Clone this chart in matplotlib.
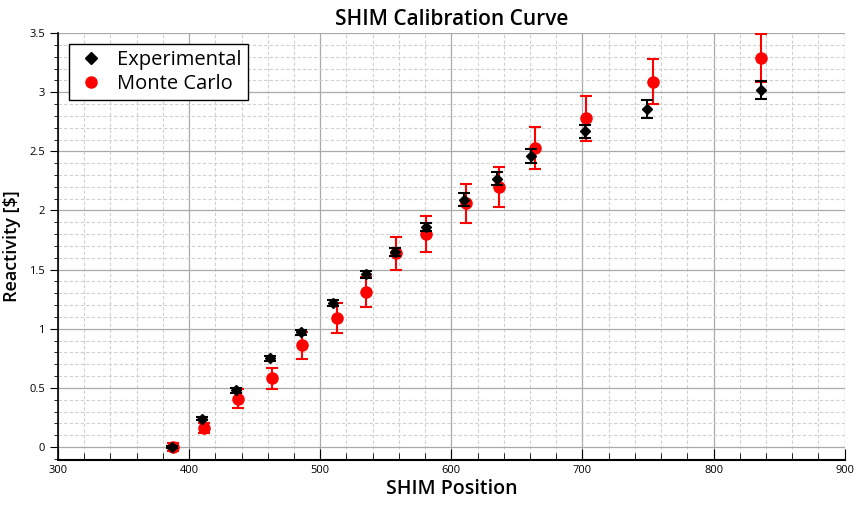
import matplotlib
matplotlib.use("Agg")
import matplotlib.pyplot as plt
from matplotlib.ticker import MultipleLocator
from matplotlib.lines import Line2D

plt.rcParams['font.family'] = ['Open Sans', 'DejaVu Sans']

# Experimental data
exp_pos = [387, 410, 436, 462, 485, 510, 535, 557, 581, 610, 635, 661, 702, 749, 836]
exp_react = [0.0, 0.24, 0.48, 0.75, 0.97, 1.22, 1.46, 1.65, 1.86, 2.09, 2.27, 2.46, 2.67, 2.86, 3.02]
exp_err = [0.01, 0.015, 0.02, 0.02, 0.02, 0.025, 0.03, 0.035, 0.035, 0.055, 0.055, 0.06, 0.055, 0.075, 0.075]

# Monte Carlo data
mc_pos = [388, 411, 437, 463, 486, 513, 535, 558, 581, 611, 636, 664, 703, 754, 836]
mc_react = [0.0, 0.16, 0.41, 0.58, 0.86, 1.09, 1.31, 1.64, 1.80, 2.06, 2.20, 2.53, 2.78, 3.09, 3.29]
mc_err = [0.035, 0.045, 0.077, 0.09, 0.115, 0.125, 0.125, 0.14, 0.15, 0.163, 0.17, 0.18, 0.19, 0.19, 0.2]

fig = plt.figure(figsize=(8.56, 5.07), dpi=100)
ax = fig.add_axes([0.0678, 0.0927, 0.919, 0.842])

ax.errorbar(mc_pos, mc_react, yerr=mc_err, fmt='o', color='#ff0000', markersize=8,
            capsize=4, elinewidth=1.5, capthick=1.5, zorder=3)
ax.errorbar(exp_pos, exp_react, yerr=exp_err, fmt='D', color='black', markersize=5,
            capsize=4, elinewidth=1.5, capthick=1.5, zorder=4)

ax.set_xlim(300, 900)
ax.set_ylim(-0.11, 3.5)
ax.xaxis.set_major_locator(MultipleLocator(100))
ax.xaxis.set_minor_locator(MultipleLocator(20))
ax.yaxis.set_minor_locator(MultipleLocator(0.1))
ax.set_yticks([0, 0.5, 1, 1.5, 2, 2.5, 3, 3.5])
ax.set_yticklabels(['0', '0.5', '1', '1.5', '2', '2.5', '3', '3.5'])

ax.grid(which='major', color='#aaaaaa', linestyle='-', linewidth=0.9)
ax.grid(which='minor', color='#d0d0d0', linestyle=(0, (3, 2)), linewidth=0.8)
ax.set_axisbelow(True)

for s in ['top', 'right']:
    ax.spines[s].set_visible(False)
ax.spines['left'].set_linewidth(1.2)
ax.spines['bottom'].set_linewidth(1.5)

ax.tick_params(axis='x', which='both', direction='in', labelsize=8)
ax.tick_params(axis='x', which='major', length=8)
ax.tick_params(axis='x', which='minor', length=5)
ax.tick_params(axis='y', which='both', direction='out', labelsize=8)
ax.tick_params(axis='y', which='major', length=6)
ax.tick_params(axis='y', which='minor', length=3)

ax.set_title('SHIM Calibration Curve', fontsize=15, fontweight='semibold', pad=6)
ax.set_xlabel('SHIM Position', fontsize=14, fontweight='semibold', labelpad=2)
ax.set_ylabel('Reactivity [\\$]', fontsize=13, fontweight='semibold', labelpad=6)

handles = [
    Line2D([], [], marker='D', color='black', linestyle='none', markersize=6),
    Line2D([], [], marker='o', color='#ff0000', linestyle='none', markersize=8),
]
leg = ax.legend(handles, ['Experimental', 'Monte Carlo'], loc='upper left', fontsize=14.5,
                frameon=True, fancybox=False, edgecolor='black', borderpad=0.3,
                handletextpad=0.5, labelspacing=0.2, handlelength=1.6,
                bbox_to_anchor=(0.014, 0.974), borderaxespad=0, framealpha=1)
leg.get_frame().set_linewidth(1.0)

fig.savefig('out.png', dpi=100)
